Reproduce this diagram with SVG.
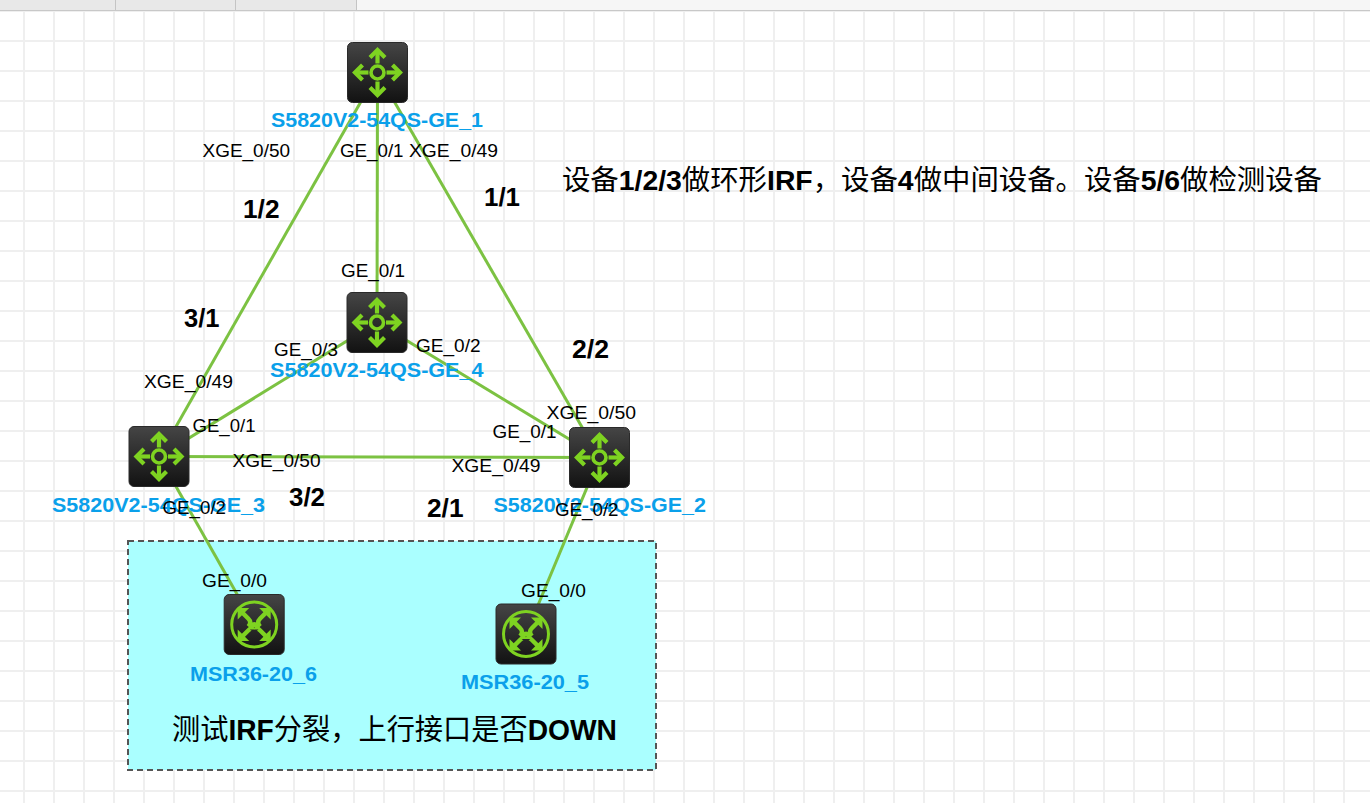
<svg xmlns="http://www.w3.org/2000/svg" xmlns:xlink="http://www.w3.org/1999/xlink" width="1370" height="803" viewBox="0 0 1370 803">
<style>
.port{font-family:"Liberation Sans",Arial,sans-serif;font-size:19px;fill:#000}
.name{font-family:"Liberation Sans",Arial,sans-serif;font-size:20px;font-weight:bold;fill:#0aa0ea}
.num{font-family:"Liberation Sans",Arial,sans-serif;font-size:25px;font-weight:bold;fill:#000}
.note{font-family:"Liberation Sans","Noto Sans CJK SC",sans-serif;fill:#000}
.note .b{font-weight:bold}
.link{stroke:#7cc242;stroke-width:3;fill:none}
.g{stroke:#7ed321;fill:none}
</style>
<defs>
<pattern id="grid" patternUnits="userSpaceOnUse" x="23" y="40" width="30" height="30">
<rect x="0" y="0" width="2" height="30" fill="#efefef"/>
<rect x="0" y="0" width="30" height="2" fill="#efefef"/>
</pattern>
<linearGradient id="bg" x1="0" y1="0" x2="0" y2="1">
<stop offset="0" stop-color="#454545"/>
<stop offset="1" stop-color="#121212"/>
</linearGradient>
<g id="switchIcon">
<rect x="-30" y="-30" width="60" height="60" rx="5" fill="url(#bg)" stroke="#2a2a2a" stroke-width="1"/>
<circle class="g" cx="0" cy="0" r="6.5" stroke-width="3.6"/>
<g class="g" stroke-width="4.2" stroke-linejoin="miter" stroke-linecap="butt">
<line x1="0" y1="-9" x2="0" y2="-21"/>
<line x1="0" y1="9" x2="0" y2="21"/>
<line x1="-9" y1="0" x2="-21" y2="0"/>
<line x1="9" y1="0" x2="21" y2="0"/>
<polyline points="-7.5,-15 0,-22.5 7.5,-15"/>
<polyline points="-7.5,15 0,22.5 7.5,15"/>
<polyline points="-15,-7.5 -22.5,0 -15,7.5"/>
<polyline points="15,-7.5 22.5,0 15,7.5"/>
</g>
</g>
<g id="routerIcon">
<rect x="-30" y="-30" width="60" height="60" rx="5" fill="url(#bg)" stroke="#2a2a2a" stroke-width="1"/>
<circle class="g" cx="0" cy="0" r="22.5" stroke-width="3"/>
<g fill="#7ed321">
<polygon points="-16.5,-16.5 -5,-16.5 -16.5,-5"/>
<polygon points="16.5,-16.5 5,-16.5 16.5,-5"/>
<polygon points="-16.5,16.5 -5,16.5 -16.5,5"/>
<polygon points="16.5,16.5 5,16.5 16.5,5"/>
</g>
<g class="g" stroke-width="4.5">
<path d="M-12,-12 L-6,-6 Q-2,-2 -6,2"/>
<path d="M12,-12 L6,-6 Q2,-2 6,2"/>
<path d="M-12,12 L-6,6 Q-2,2 -2,5"/>
<path d="M12,12 L6,6 Q2,2 2,5"/>
<path d="M-4,2 Q0,-2 4,2"/>
</g>
</g>
</defs>

<rect x="0" y="0" width="1370" height="803" fill="#ffffff"/>
<rect x="0" y="11" width="1370" height="792" fill="url(#grid)"/>

<g id="tabbar">
<rect x="0" y="0" width="1370" height="10" fill="#f6f6f6"/>
<rect x="0" y="0" width="356" height="10" fill="#e8e8e8"/>
<line x1="115.5" y1="0" x2="115.5" y2="10" stroke="#c4c4c4"/>
<line x1="235.5" y1="0" x2="235.5" y2="10" stroke="#c4c4c4"/>
<line x1="356.5" y1="0" x2="356.5" y2="10" stroke="#c4c4c4"/>
<line x1="0" y1="10.5" x2="1370" y2="10.5" stroke="#c8c8c8"/>
</g>

<g id="detect-area">
<rect x="128" y="541" width="528" height="229" fill="#aaffff" stroke="#555555" stroke-width="2" stroke-dasharray="6,4"/>
<text class="note" x="172" y="740" font-size="29" textLength="445" lengthAdjust="spacingAndGlyphs">测试<tspan class="b">IRF</tspan>分裂，上行接口是否<tspan class="b">DOWN</tspan></text>
</g>

<g id="connectors">
<line class="link" x1="377.5" y1="72.5" x2="159" y2="456.5"/>
<line class="link" x1="377.5" y1="72.5" x2="599.5" y2="457.5"/>
<line class="link" x1="377.5" y1="72.5" x2="377" y2="322.5"/>
<line class="link" x1="377" y1="322.5" x2="159" y2="456.5"/>
<line class="link" x1="377" y1="322.5" x2="599.5" y2="457.5"/>
<line class="link" x1="159" y1="456.5" x2="599.5" y2="457.5"/>
<line class="link" x1="159" y1="456.5" x2="254.2" y2="624.5"/>
<line class="link" x1="599.5" y1="457.5" x2="526" y2="634"/>
</g>

<g id="link-labels">
<text class="port" x="202.5" y="157" textLength="87.5" lengthAdjust="spacingAndGlyphs">XGE_0/50</text>
<text class="port" x="340" y="157" textLength="63.5" lengthAdjust="spacingAndGlyphs">GE_0/1</text>
<text class="port" x="409" y="157" textLength="89" lengthAdjust="spacingAndGlyphs">XGE_0/49</text>
<text class="num" x="243" y="218" textLength="36.5" lengthAdjust="spacingAndGlyphs">1/2</text>
<text class="num" x="484" y="206" textLength="36" lengthAdjust="spacingAndGlyphs">1/1</text>
<text class="port" x="341" y="277" textLength="64" lengthAdjust="spacingAndGlyphs">GE_0/1</text>
<text class="num" x="184" y="327" textLength="35.5" lengthAdjust="spacingAndGlyphs">3/1</text>
<text class="port" x="274" y="356" textLength="64" lengthAdjust="spacingAndGlyphs">GE_0/3</text>
<text class="port" x="416" y="352" textLength="64.5" lengthAdjust="spacingAndGlyphs">GE_0/2</text>
<text class="num" x="572" y="358" textLength="37" lengthAdjust="spacingAndGlyphs">2/2</text>
<text class="port" x="144" y="388" textLength="89" lengthAdjust="spacingAndGlyphs">XGE_0/49</text>
<text class="port" x="546.5" y="419" textLength="89.5" lengthAdjust="spacingAndGlyphs">XGE_0/50</text>
<text class="port" x="192.5" y="431.5" textLength="63" lengthAdjust="spacingAndGlyphs">GE_0/1</text>
<text class="port" x="492.5" y="438" textLength="64" lengthAdjust="spacingAndGlyphs">GE_0/1</text>
<text class="port" x="232.5" y="466.5" textLength="88" lengthAdjust="spacingAndGlyphs">XGE_0/50</text>
<text class="port" x="451.5" y="471.5" textLength="89" lengthAdjust="spacingAndGlyphs">XGE_0/49</text>
<text class="num" x="289" y="506" textLength="36" lengthAdjust="spacingAndGlyphs">3/2</text>
<text class="num" x="427" y="517" textLength="36.5" lengthAdjust="spacingAndGlyphs">2/1</text>
<text class="port" x="202" y="587" textLength="65" lengthAdjust="spacingAndGlyphs">GE_0/0</text>
<text class="port" x="521" y="597" textLength="65" lengthAdjust="spacingAndGlyphs">GE_0/0</text>
</g>

<g id="sw1">
<use xlink:href="#switchIcon" x="377.5" y="72.5"/>
<text class="name" x="271" y="127" textLength="212" lengthAdjust="spacingAndGlyphs">S5820V2-54QS-GE_1</text>
</g>
<g id="sw4">
<use xlink:href="#switchIcon" x="377" y="322.5"/>
<text class="name" x="270" y="377" textLength="213.5" lengthAdjust="spacingAndGlyphs">S5820V2-54QS-GE_4</text>
</g>
<g id="sw3">
<use xlink:href="#switchIcon" x="159" y="456.5"/>
<text class="name" x="52" y="511.5" textLength="213" lengthAdjust="spacingAndGlyphs">S5820V2-54QS-GE_3</text>
</g>
<g id="sw2">
<use xlink:href="#switchIcon" x="599.5" y="457.5"/>
<text class="name" x="493.5" y="512" textLength="212.5" lengthAdjust="spacingAndGlyphs">S5820V2-54QS-GE_2</text>
</g>

<g id="port-labels-over">
<text class="port" x="162.5" y="513.5" textLength="63.5" lengthAdjust="spacingAndGlyphs">GE_0/2</text>
<text class="port" x="555" y="515.5" textLength="63.5" lengthAdjust="spacingAndGlyphs">GE_0/2</text>
</g>

<g id="r6">
<use xlink:href="#routerIcon" x="254.2" y="624.5"/>
<text class="name" x="190" y="681" textLength="127" lengthAdjust="spacingAndGlyphs">MSR36-20_6</text>
</g>
<g id="r5">
<use xlink:href="#routerIcon" x="526" y="634"/>
<text class="name" x="461" y="689" textLength="128" lengthAdjust="spacingAndGlyphs">MSR36-20_5</text>
</g>

<g id="annotation">
<text class="note" x="562" y="190" font-size="28" textLength="760" lengthAdjust="spacingAndGlyphs">设备<tspan class="b">1/2/3</tspan>做环形<tspan class="b">IRF</tspan>，设备<tspan class="b">4</tspan>做中间设备。设备<tspan class="b">5/6</tspan>做检测设备</text>
</g>
</svg>
